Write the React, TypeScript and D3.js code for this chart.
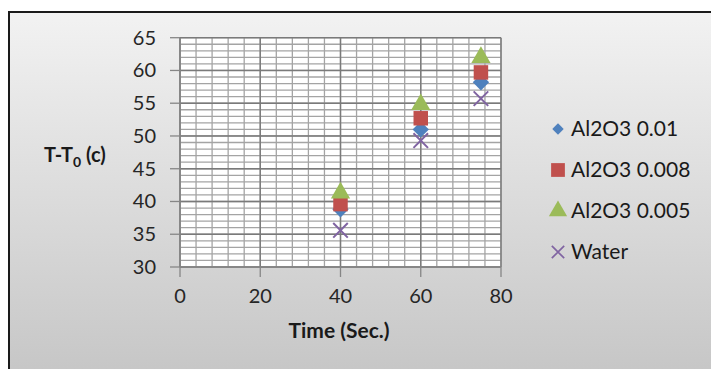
import * as d3 from "d3";

const times = [40, 60, 75];
const al2o3_001 = [38.8, 51.0, 58.2];
const al2o3_0008 = [39.6, 52.7, 59.7];
const al2o3_0005 = [41.3, 54.8, 62.0];
const water = [35.6, 49.3, 55.7];

const xTicks = [0, 20, 40, 60, 80];
const yTicks = [30, 35, 40, 45, 50, 55, 60, 65];

const seriesNames = ["Al2O3 0.01", "Al2O3 0.008", "Al2O3 0.005", "Water"];
const seriesColors = ["#4f81bd", "#c0504d", "#9bbb59", "#8064a2"];

const W = 711;
const H = 369;
const FONT = "Lato, 'Open Sans', sans-serif";

export default function App() {
  const x = d3.scaleLinear().domain([0, 80]).range([180, 501]);
  const y = d3.scaleLinear().domain([30, 65]).range([267, 37.7]);

  const xMinor = d3.range(0, 80.01, 4);
  const yMinor = d3.range(30, 65.01, 1);

  const diamond = d3.symbol().type(d3.symbolDiamond2).size(170)()!;
  const square = d3.symbol().type(d3.symbolSquare).size(210)()!;
  const triangle = d3.symbol().type(d3.symbolTriangle).size(160)()!;
  const cross = d3.symbol().type(d3.symbolX).size(140)()!;

  const markerOf = (i: number, cx: number, cy: number, scale = 1) => {
    const t = `translate(${cx},${cy}) scale(${scale})`;
    if (i === 0) return <path d={diamond} transform={t} fill={seriesColors[0]} />;
    if (i === 1) return <path d={square} transform={t} fill={seriesColors[1]} />;
    if (i === 2) return <path d={triangle} transform={t} fill={seriesColors[2]} />;
    return <path d={cross} transform={t} fill="none" stroke={seriesColors[3]} strokeWidth={2} />;
  };

  const seriesData = [al2o3_001, al2o3_0008, al2o3_0005, water];
  const drawOrder = [3, 0, 1, 2];

  return (
    <svg width={W} height={H} style={{ position: "absolute", left: 0, top: 0 }} fontFamily={FONT}>
      <defs>
        <linearGradient id="bg" x1="0" y1="0" x2="0" y2="1">
          <stop offset="0" stopColor="#f2f2f2" />
          <stop offset="1" stopColor="#c3c3c3" />
        </linearGradient>
      </defs>
      <rect x={0} y={0} width={W} height={H} fill="#ffffff" />
      <rect x={9} y={12} width={W + 20} height={H + 20} fill="url(#bg)" stroke="#1a1a1a" strokeWidth={2} />

      <rect x={x(0)} y={y(65)} width={x(80) - x(0)} height={y(30) - y(65)} fill="#ffffff" />

      {/* minor grid */}
      {yMinor.map((v) => (
        <line key={`hy${v}`} x1={x(0)} x2={x(80)} y1={y(v)} y2={y(v)} stroke="#a4a4a4" strokeWidth={1.3} />
      ))}
      {xMinor.map((v) => (
        <line key={`vx${v}`} x1={x(v)} x2={x(v)} y1={y(30)} y2={y(65)} stroke="#a4a4a4" strokeWidth={1.3} />
      ))}
      {/* major grid */}
      {yTicks.map((v) => (
        <line key={`my${v}`} x1={x(0)} x2={x(80)} y1={y(v)} y2={y(v)} stroke="#7a7a7a" strokeWidth={1.4} />
      ))}
      {xTicks.map((v) => (
        <line key={`mx${v}`} x1={x(v)} x2={x(v)} y1={y(30)} y2={y(65)} stroke="#7a7a7a" strokeWidth={1.4} />
      ))}

      {/* axes */}
      <line x1={x(0)} x2={x(0)} y1={y(30)} y2={y(65)} stroke="#868686" strokeWidth={1.5} />
      <line x1={x(0)} x2={x(80)} y1={y(30)} y2={y(30)} stroke="#868686" strokeWidth={1.5} />
      {yTicks.map((v) => (
        <line key={`ty${v}`} x1={x(0) - 10} x2={x(0)} y1={y(v)} y2={y(v)} stroke="#868686" strokeWidth={1.3} />
      ))}
      {xTicks.map((v) => (
        <line key={`tx${v}`} x1={x(v)} x2={x(v)} y1={y(30)} y2={y(30) + 10} stroke="#868686" strokeWidth={1.3} />
      ))}

      {yTicks.map((v) => (
        <text key={`ly${v}`} x={156} y={y(v)} dy="0.35em" textAnchor="end" fontSize={20} fill="#262626">
          {v}
        </text>
      ))}
      {xTicks.map((v) => (
        <text key={`lx${v}`} x={x(v)} y={296} dy="0.35em" textAnchor="middle" fontSize={20} fill="#262626">
          {v}
        </text>
      ))}

      <text x={339} y={331} dy="0.35em" textAnchor="middle" fontSize={21} fontWeight="bold" fill="#1a1a1a">
        Time (Sec.)
      </text>
      <text x={44} y={162} fontSize={20} fontWeight="bold" fill="#1a1a1a">
        T-T<tspan fontSize={14} dy={5}>0</tspan>
        <tspan dy={-5}> (c)</tspan>
      </text>

      {/* points */}
      {drawOrder.map((si) =>
        times.map((t, j) => <g key={`p${si}-${j}`}>{markerOf(si, x(t), y(seriesData[si][j]))}</g>)
      )}

      {/* legend */}
      {seriesNames.map((name, i) => {
        const ly = 129 + i * 41;
        return (
          <g key={name}>
            {markerOf(i, 558, ly, i === 0 ? 0.7 : i === 3 ? 0.85 : 0.95)}
            <text x={571} y={ly} dy="0.35em" fontSize={21} fill="#1a1a1a">
              {name}
            </text>
          </g>
        );
      })}
    </svg>
  );
}
